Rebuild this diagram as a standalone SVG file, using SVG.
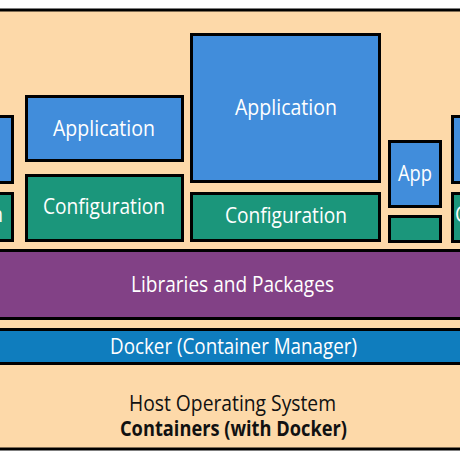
<svg xmlns="http://www.w3.org/2000/svg" width="460" height="460" viewBox="0 0 460 460">
<style>
.bx{stroke:#000;stroke-width:3}
.app{fill:#418DDB}
.cfg{fill:#1B967B}
.t{font-family:"Open Sans","DejaVu Sans",sans-serif;font-size:21px;fill:#fff;text-anchor:middle}
.d{fill:#111}
</style>
<rect width="460" height="460" fill="#fff"/>
<g id="host">
<rect class="bx" x="-5" y="10" width="470" height="439" fill="#FDD9A9"/>
<text class="t d" x="232.5" y="411" textLength="207" lengthAdjust="spacingAndGlyphs">Host Operating System</text>
<text class="t d" x="233.5" y="436" font-weight="bold" textLength="227" lengthAdjust="spacingAndGlyphs">Containers (with Docker)</text>
</g>
<g id="docker">
<rect class="bx" x="-5" y="329.5" width="470" height="34" fill="#0F7DBE"/>
<text class="t" x="233.5" y="354" textLength="247" lengthAdjust="spacingAndGlyphs">Docker (Container Manager)</text>
</g>
<g id="libs">
<rect class="bx" x="-5" y="250.5" width="470" height="68" fill="#824186"/>
<text class="t" x="232.5" y="292" textLength="203" lengthAdjust="spacingAndGlyphs">Libraries and Packages</text>
</g>
<g id="c1">
<rect class="bx app" x="-18.5" y="116.5" width="31" height="66"/>
<rect class="bx cfg" x="-18.5" y="193.5" width="31" height="47"/>
<text class="t" x="3" y="222" style="text-anchor:end" textLength="122" lengthAdjust="spacingAndGlyphs">Configuration</text>
</g>
<g id="c2">
<rect class="bx app" x="26.5" y="96.5" width="156" height="64"/>
<text class="t" x="104" y="136" textLength="102" lengthAdjust="spacingAndGlyphs">Application</text>
<rect class="bx cfg" x="26.5" y="175.5" width="156" height="65"/>
<text class="t" x="104" y="214" textLength="122" lengthAdjust="spacingAndGlyphs">Configuration</text>
</g>
<g id="c3">
<rect class="bx app" x="191.5" y="34.5" width="188" height="147"/>
<text class="t" x="286" y="115" textLength="102" lengthAdjust="spacingAndGlyphs">Application</text>
<rect class="bx cfg" x="191.5" y="193.5" width="188" height="47"/>
<text class="t" x="286" y="223" textLength="122" lengthAdjust="spacingAndGlyphs">Configuration</text>
</g>
<g id="c4">
<rect class="bx app" x="389.5" y="141.5" width="51" height="65"/>
<text class="t" x="415" y="181" textLength="34" lengthAdjust="spacingAndGlyphs">App</text>
<rect class="bx cfg" x="389.5" y="216.5" width="51" height="25"/>
</g>
<g id="c5">
<rect class="bx app" x="452.5" y="116.5" width="40" height="66"/>
<rect class="bx cfg" x="452.5" y="193.5" width="40" height="48"/>
<text class="t" x="455" y="222" style="text-anchor:start" textLength="122" lengthAdjust="spacingAndGlyphs">Configuration</text>
</g>
<g id="connectors"/>
</svg>
